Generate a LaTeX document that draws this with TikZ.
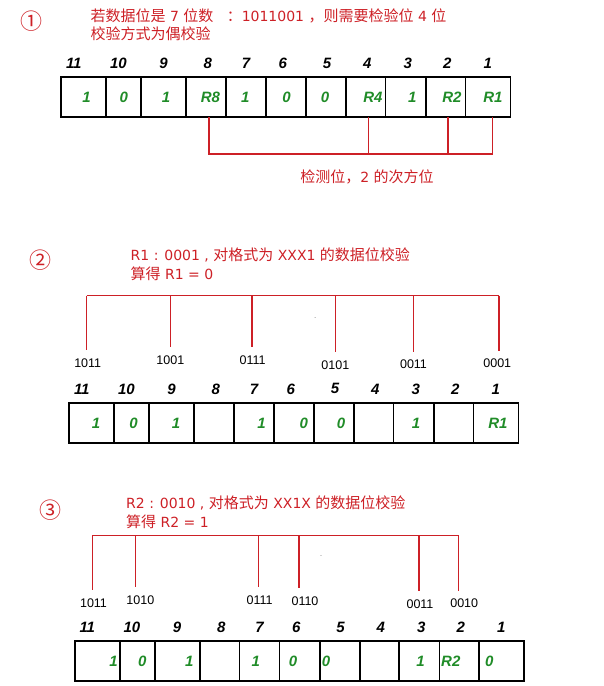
\documentclass[tikz,border=0pt]{standalone}
\usepackage{fontspec}
\setmainfont{Liberation Sans}
\newfontfamily\cjk{Noto Sans CJK SC}
\newfontfamily\latn{DejaVu Sans}
\newcommand\lat[1]{{\latn\fontsize{14}{14}\selectfont#1}}
\usetikzlibrary{positioning}
\definecolor{notered}{RGB}{205,32,38}
\definecolor{bitgreen}{RGB}{32,140,40}

\tikzset{
  cell/.style={draw, line width=1.6pt, minimum height=40pt, inner sep=0pt, outer sep=0pt},
  colnum/.style={font=\fontsize{15}{15}\selectfont\bfseries\itshape, inner sep=0pt},
  bitval/.style={font=\fontsize{15}{15}\selectfont\bfseries\itshape, text=bitgreen, inner sep=0pt},
  note/.style={font=\cjk\fontsize{15}{15}\selectfont, text=notered, anchor=west, inner sep=0pt},
  stepmark/.style={font=\cjk\fontsize{22}{22}\selectfont, text=notered, inner sep=0pt},
  redline/.style={draw=notered, line width=1.5pt},
  codelabel/.style={font=\fontsize{12.5}{12.5}\selectfont, inner sep=0pt},
  speck/.style={font=\fontsize{6}{6}\selectfont, text=gray, inner sep=0pt}
}

\begin{document}
\begin{tikzpicture}[x=1pt, y=-1pt]
    \useasboundingbox (0,0) rectangle (604,686);

    % the three registers
    \foreach \row/\dx/\dy in {a/0/0, b/8/325.7, c/13.5/564}{
        \begin{scope}[shift={(\dx,\dy)}]
            \foreach \l/\r/\n in {61.2/106.2/11, 106.2/141.2/10, 141.2/186.2/9, 186.2/225.8/8,
                                  225.8/265.8/7, 265.8/306.2/6, 306.2/346.2/5, 346.2/385.4/4,
                                  385.4/425.8/3, 425.8/465.4/2, 465.4/510.4/1}
                \node[cell, minimum width=\r-\l] (\row\n) at ({(\l+\r)/2},97) {};
            \foreach \x/\n in {73.8/11, 118.5/10, 163.5/9, 207.7/8, 246/7, 282.7/6,
                               327/5, 367.3/4, 407.7/3, 447.3/2, 487.7/1}
                \node[colnum] (h\row\n) at (\x,63.2) {\n};
        \end{scope}
    }

    % step 1
    \node[stepmark] (s1) at (31,21) {①};
    \node[note] (t1a) at (90.4,15.7) {若数据位是\lat{ 7 }位数\lat{ \ \ }：\lat{1011001 }，则需要检验位\lat{ 4 }位};
    \node[note] (t1b) at (90.4,33.5) {校验方式为偶校验};
    \foreach \x/\v [count=\i] in {86.5/1, 123.8/0, 166/1, 210.4/R8, 245.4/1, 286.5/0,
                                  325/0, 373/R4, 412.3/1, 452/R2, 493/R1}
        \node[bitval] (va\i) at (\x,97.7) {\v};
    \coordinate (k8) at (208.8,154);
    \coordinate (k4) at (368.5,154);
    \coordinate (k2) at (448,154);
    \coordinate (k1) at (492.3,154);
    \draw[redline] (a8.south -| k8) -- (k8) -- (k1) -- (a1.south -| k1);
    \draw[redline] (a4.south -| k4) -- (k4);
    \draw[redline] (a2.south -| k2) -- (k2);
    \node[note, anchor=center] (chk) at (367,177) {检测位，\lat{2 }的次方位};

    % step 2
    \node[stepmark] (s2) at (40.4,260) {②};
    \node[note] (t2a) at (130.5,255) {\lat{R1 : 0001 , }对格式为\lat{ XXX1 }的数据位校验};
    \node[note] (t2b) at (130.5,273.3) {算得\lat{ R1 = 0}};
    \node[speck] (dot2) at (315.4,318.3) {-};
    \foreach \x/\n in {86.5/11, 170.4/9, 252/7, 335.4/5, 413.5/3, 498.8/1}
        \coordinate (u\n) at (\x,295.7);
    \node[codelabel] (p11) at (87.7,362.7) {1011};
    \node[codelabel] (p9) at (170.4,360) {1001};
    \node[codelabel] (p7) at (252.7,360) {0111};
    \node[codelabel] (p5) at (335.4,365) {0101};
    \node[codelabel] (p3) at (413.5,364.3) {0011};
    \node[codelabel] (p1) at (497.3,363.3) {0001};
    \draw[redline] (u11) -- (u1);
    \foreach \n in {11,9,7,5,3,1}
        \draw[redline, shorten >=8pt] (u\n) -- (u\n |- p\n.north);
    \begin{scope}[shift={(8,325.7)}]
        \foreach \x/\v [count=\i] in {88/1, 125.5/0, 168/1, 253.5/1, 295.8/0, 333/0, 408/1, 490/R1}
            \node[bitval] (vb\i) at (\x,97.6) {\v};
    \end{scope}

    % step 3
    \node[stepmark] (s3) at (50,510) {③};
    \node[note] (t3a) at (126,503.3) {\lat{R2 : 0010 , }对格式为\lat{ XX1X }的数据位校验};
    \node[note] (t3b) at (126,521.7) {算得\lat{ R2 = 1}};
    \node[speck] (dot3) at (321,556.7) {-};
    \foreach \x/\n in {92.3/11, 135.4/10, 258.5/7, 299.2/6, 419.2/3, 458.5/2}
        \coordinate (v\n) at (\x,535.7);
    \node[codelabel] (r11) at (93.5,602.7) {1011};
    \node[codelabel] (r10) at (140.4,600) {1010};
    \node[codelabel] (r7) at (259.6,600) {0111};
    \node[codelabel] (r6) at (305,601) {0110};
    \node[codelabel] (r3) at (420,604) {0011};
    \node[codelabel] (r2) at (464.2,603.3) {0010};
    \draw[redline] (v11) -- (v2);
    \draw[redline, line width=1pt, shorten >=8pt] (v11) -- (v11 |- r11.north);
    \foreach \n in {10,7,6,3,2}
        \draw[redline, shorten >=8pt] (v\n) -- (v\n |- r\n.north);
    \begin{scope}[shift={(13.5,564)}]
        \foreach \x/\v [count=\i] in {100/1, 128.8/0, 175.7/1, 242.3/1, 279.5/0, 312.5/0,
                                      407/1, 437.3/R2, 475.7/0}
            \node[bitval] (vc\i) at (\x,97.7) {\v};
    \end{scope}
\end{tikzpicture}
\end{document}
